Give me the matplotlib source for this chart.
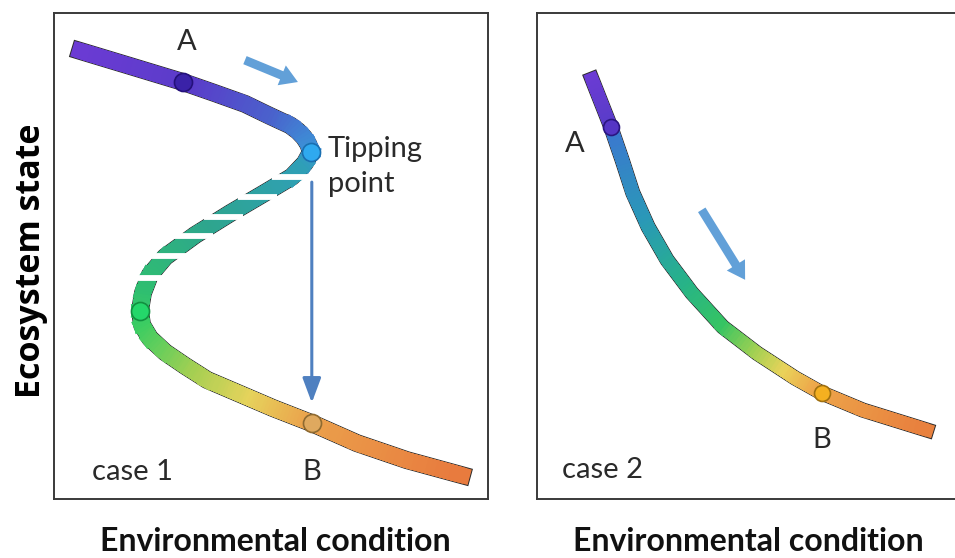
import numpy as np
import matplotlib.pyplot as plt
from matplotlib.collections import LineCollection
from matplotlib.colors import LinearSegmentedColormap

# case 1: upper stable branch -> unstable (dashed) branch -> lower stable branch
upper_x = [0.60, 1.75, 2.97, 3.71, 4.40, 4.98, 5.44, 5.62, 5.76, 5.86, 5.92]
upper_y = [9.22, 8.91, 8.58, 8.35, 8.13, 7.88, 7.69, 7.57, 7.44, 7.30, 7.14]
middle_x = [5.92, 5.78, 5.48, 4.86, 4.06, 3.25, 2.56, 2.21, 2.05, 1.98]
middle_y = [7.14, 6.91, 6.63, 6.30, 5.88, 5.43, 4.98, 4.61, 4.24, 3.87]
lower_x = [1.98, 2.03, 2.21, 2.56, 3.02, 3.53, 4.29, 5.05, 5.94, 6.98, 8.13, 9.40]
lower_y = [3.87, 3.58, 3.31, 3.02, 2.74, 2.45, 2.16, 1.87, 1.56, 1.15, 0.80, 0.49]
gap_y = [6.63, 6.21, 5.80, 5.41, 5.00, 4.55]   # white cuts in the dashed branch

# points A, tipping point, fold, B
marks1_x = [2.97, 5.92, 1.98, 5.94]
marks1_y = [8.58, 7.14, 3.87, 1.56]

# case 2: smooth response
case2_x = [1.33, 1.79, 2.06, 2.32, 2.69, 3.15, 3.75, 4.50, 5.33, 6.25, 6.90, 7.89, 9.44]
case2_y = [8.64, 7.65, 6.98, 6.30, 5.60, 4.92, 4.24, 3.54, 3.00, 2.49, 2.18, 1.83, 1.42]
marks2_x = [1.79, 6.90]
marks2_y = [7.65, 2.18]

# arrows (tail, head)
shift_arrow1 = [(4.40, 9.03), (5.62, 8.58)]
drop_arrow1 = [(5.94, 6.52), (5.94, 1.98)]
shift_arrow2 = [(3.99, 5.95), (5.04, 4.51)]

cmap1 = LinearSegmentedColormap.from_list('case1', [
    (0.00, '#6c3bd4'), (0.14, '#5a3cc9'), (0.24, '#4a62cc'), (0.295, '#3d8fd6'),
    (0.32, '#2f9fb8'), (0.45, '#2ea58e'), (0.56, '#2fbf70'), (0.60, '#3ccd62'),
    (0.68, '#a6cf52'), (0.75, '#e6d35c'), (0.82, '#eba24c'), (1.00, '#e87b3e')])
cmap2 = LinearSegmentedColormap.from_list('case2', [
    (0.00, '#6c3bd4'), (0.10, '#5a3cc9'), (0.12, '#3b78cf'), (0.30, '#2a98b8'),
    (0.45, '#27b388'), (0.56, '#35c463'), (0.64, '#9fd052'), (0.71, '#ead35a'),
    (0.78, '#eda64a'), (1.00, '#e8803e')])

label_font = ['Lato', 'DejaVu Sans']
label_style = dict(fontsize=21, family=label_font, color='#2a2a2a')


def ribbon(ax, xs, ys, cmap, width):
    # thick band with a colour gradient along its length and a thin dark edge
    xs, ys = np.asarray(xs), np.asarray(ys)
    ax.plot(xs, ys, color='#2b2b2b', lw=width + 1.4, solid_capstyle='projecting',
            solid_joinstyle='round', zorder=2)
    # split every straight piece into short bits so the colour changes smoothly
    f = np.linspace(0, 1, 13)
    px = np.concatenate([xs[i] + (xs[i + 1] - xs[i]) * f[:-1] for i in range(len(xs) - 1)] + [xs[-1:]])
    py = np.concatenate([ys[i] + (ys[i + 1] - ys[i]) * f[:-1] for i in range(len(ys) - 1)] + [ys[-1:]])
    pts = ax.transData.transform(np.column_stack([px, py]))
    cum = np.concatenate([[0], np.cumsum(np.hypot(*np.diff(pts, axis=0).T))])
    t = (cum[:-1] + cum[1:]) / 2 / cum[-1]
    segs = np.stack([np.column_stack([px[:-1], py[:-1]]), np.column_stack([px[1:], py[1:]])], axis=1)
    ax.add_collection(LineCollection(segs, colors=cmap(t), linewidths=width,
                                     capstyle='projecting', joinstyle='round', zorder=3))


def fat_arrow(ax, tail, head):
    ax.annotate('', xy=head, xytext=tail, zorder=5,
                arrowprops=dict(arrowstyle='simple,head_length=0.9,head_width=1.1,tail_width=0.45',
                                mutation_scale=14, color='#62a0d8', lw=0,
                                shrinkA=0, shrinkB=0))


fig = plt.figure(figsize=(9.55, 5.58), dpi=100)
ax1 = fig.add_axes([54 / 955, 59 / 558, 434 / 955, 486 / 558])
ax2 = fig.add_axes([537 / 955, 59 / 558, 422 / 955, 486 / 558])
ax1.set_xlim(0, 10)
ax2.set_xlim(0, 10.22)
for ax in (ax1, ax2):
    ax.set_ylim(0, 10)
    ax.set_xticks([])
    ax.set_yticks([])
    for s in ax.spines.values():
        s.set_color('#3a3a3a')
        s.set_linewidth(1.4)

# ---- case 1 ----
path_x = upper_x + middle_x[1:] + lower_x[1:]
path_y = upper_y + middle_y[1:] + lower_y[1:]
ribbon(ax1, path_x, path_y, cmap1, 11.5)
for gy in gap_y:
    xc = np.interp(gy, middle_y[::-1], middle_x[::-1])
    ax1.plot([xc - 0.45, xc + 0.45], [gy, gy], color='white', lw=4.2,
             solid_capstyle='butt', zorder=4)

fat_arrow(ax1, *shift_arrow1)
ax1.annotate('', xy=drop_arrow1[1], xytext=drop_arrow1[0], zorder=5,
             arrowprops=dict(arrowstyle='-|>,head_length=0.75,head_width=0.28',
                             mutation_scale=20, color='#4f80c0', lw=2.2,
                             shrinkA=0, shrinkB=0))

face1 = ['#3a22a8', '#2fa9ef', '#24d76a', '#dfa95f']
edge1 = ['#24107a', '#1a6fb0', '#129040', '#8f6a30']
for x, y, fc, ec in zip(marks1_x, marks1_y, face1, edge1):
    ax1.plot(x, y, 'o', ms=13, mfc=fc, mec=ec, mew=1.2, zorder=6)

ax1.text(3.07, 9.40, 'A', ha='center', va='center', **label_style)
ax1.text(6.31, 7.04, 'Tipping', ha='left', va='baseline', **label_style)
ax1.text(6.31, 6.32, 'point', ha='left', va='baseline', **label_style)
ax1.text(0.88, 0.39, 'case 1', ha='left', va='baseline', **label_style)
ax1.text(5.94, 0.39, 'B', ha='center', va='baseline', **label_style)

# ---- case 2 ----
ribbon(ax2, case2_x, case2_y, cmap2, 9.5)
fat_arrow(ax2, *shift_arrow2)
for x, y, fc, ec in zip(marks2_x, marks2_y, ['#5535c5', '#f5b020'], ['#2a1580', '#a07010']):
    ax2.plot(x, y, 'o', ms=11.5, mfc=fc, mec=ec, mew=1.2, zorder=6)

ax2.text(0.92, 7.14, 'A', ha='center', va='baseline', **label_style)
ax2.text(6.90, 1.05, 'B', ha='center', va='baseline', **label_style)
ax2.text(0.61, 0.43, 'case 2', ha='left', va='baseline', **label_style)

# axis titles
fig.text(31 / 955, 1 - 261 / 558, 'Ecosystem state', rotation=90, fontsize=24.5,
         family=['Open Sans', 'DejaVu Sans'], weight='bold', ha='center', va='center')
for cx in (275, 748):
    fig.text(cx / 955, 7 / 558, 'Environmental condition', fontsize=23,
             family=label_font, weight='bold', color='#111111', ha='center', va='baseline')

fig.savefig('out.png', dpi=100)
